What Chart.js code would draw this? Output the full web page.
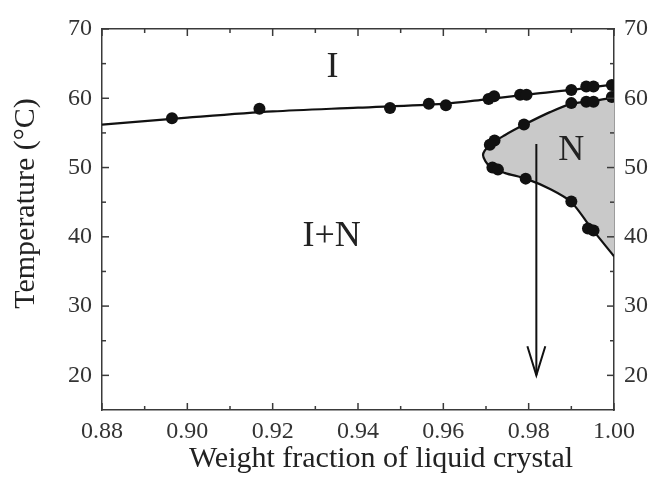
<!DOCTYPE html>
<html>
<head>
<meta charset="utf-8">
<title>Phase diagram</title>
<script src="https://cdn.jsdelivr.net/npm/chart.js@4.4.1/dist/chart.umd.min.js"></script>
<style>
  html, body { margin: 0; padding: 0; background: #fff; }
  #chart { display: block; }
</style>
</head>
<body>
<canvas id="chart" width="651" height="491"></canvas>
<script>
// ===== Data =====
// measured points on the I / I+N boundary
const isoX = [0.8964, 0.9169, 0.9475, 0.9566, 0.9606, 0.9706, 0.9719, 0.9780, 0.9795, 0.9900, 0.9935, 0.9952, 0.9995];
const isoY = [57.1, 58.5, 58.6, 59.2, 59.0, 59.9, 60.3, 60.5, 60.5, 61.2, 61.7, 61.7, 61.9];

// measured points on the I+N / N boundary
const nemX = [0.9935, 0.9952, 0.9995, 0.9900, 0.9789, 0.9720, 0.9709, 0.9715, 0.9728, 0.9793, 0.9900, 0.9939, 0.9952];
const nemY = [59.5, 59.5, 60.2, 59.3, 56.2, 53.9, 53.3, 50.0, 49.7, 48.4, 45.1, 41.2, 40.9];

// drawn boundary curves
const isoCurveX = [0.88, 0.90, 0.92, 0.94, 0.96, 0.97, 0.98, 0.99, 1.00];
const isoCurveY = [56.2, 57.2, 58.1, 58.65, 59.2, 59.85, 60.55, 61.2, 62.0];
const nemCurveX = [1.00, 0.995, 0.990, 0.985, 0.979, 0.9745, 0.971, 0.9693, 0.971, 0.9745, 0.9793, 0.985, 0.990, 0.9945, 1.00];
const nemCurveY = [60.1, 59.6, 59.2, 58.0, 56.2, 54.7, 53.3, 51.8, 50.1, 49.2, 48.4, 46.9, 45.0, 41.4, 37.2];

// cooling arrow
const arrowX = [0.9818, 0.9818];
const arrowY = [53.4, 20.0];
const arrowHeadX = [0.9797, 0.9818, 0.9839];
const arrowHeadY = [24.2, 20.0, 24.2];

// region names
const regionNames = ['I', 'I+N', 'N'];
const regionX = [0.934, 0.9338, 0.990];
const regionY = [64.5, 40.0, 52.5];

// axes
const xTicks = [0.88, 0.90, 0.92, 0.94, 0.96, 0.98, 1.00];
const xMinorTicks = [0.89, 0.91, 0.93, 0.95, 0.97, 0.99];
const yTicks = [20, 30, 40, 50, 60, 70];
const yMinorTicks = [25, 35, 45, 55, 65];

const FONT = "'Liberation Serif', 'Times New Roman', serif";
const AXIS = '#3a3a3a';
const toPoints = (xs, ys) => xs.map((x, i) => ({ x, y: ys[i] }));

// inward tick marks, region labels, axis titles
const decorations = {
  id: 'decorations',
  afterDatasetsDraw(chart) {
    const { ctx, chartArea: a, scales: { x, y } } = chart;
    ctx.save();
    ctx.strokeStyle = AXIS;
    ctx.lineWidth = 1.5;
    const seg = (x1, y1, x2, y2) => {
      ctx.beginPath(); ctx.moveTo(x1, y1); ctx.lineTo(x2, y2); ctx.stroke();
    };
    const xMark = (v, len) => {
      const px = x.getPixelForValue(v);
      seg(px, a.bottom, px, a.bottom - len);
      seg(px, a.top, px, a.top + len);
    };
    const yMark = (v, len) => {
      const py = y.getPixelForValue(v);
      seg(a.left, py, a.left + len, py);
      seg(a.right, py, a.right - len, py);
    };
    xTicks.forEach(v => xMark(v, 7));
    xMinorTicks.forEach(v => xMark(v, 4));
    yTicks.forEach(v => yMark(v, 7));
    yMinorTicks.forEach(v => yMark(v, 4));

    ctx.fillStyle = '#222';
    ctx.textAlign = 'center';
    ctx.textBaseline = 'middle';
    ctx.font = `36px ${FONT}`;
    regionNames.forEach((t, i) => {
      ctx.fillText(t, x.getPixelForValue(regionX[i]), y.getPixelForValue(regionY[i]));
    });

    ctx.font = `30px ${FONT}`;
    ctx.fillText('Weight fraction of liquid crystal', (a.left + a.right) / 2 + 23, a.bottom + 49);
    ctx.translate(26, (a.top + a.bottom) / 2 - 16);
    ctx.rotate(-Math.PI / 2);
    ctx.fillText('Temperature (\u00B0C)', 0, 0);
    ctx.restore();
  }
};

const tickFont = { family: FONT, size: 24 };
const hiddenGrid = { display: false, drawTicks: false };
const border = { display: true, color: AXIS, width: 1.5 };
const yAxis = (position, width) => ({
  type: 'linear', position, min: 15, max: 70,
  afterBuildTicks: s => { s.ticks = yTicks.map(value => ({ value })); },
  ticks: { font: tickFont, color: '#333', padding: 10 },
  grid: hiddenGrid, border,
  afterFit: s => { s.width = width; }
});

new Chart(document.getElementById('chart'), {
  type: 'line',
  data: {
    datasets: [
      {
        data: toPoints(isoX, isoY), showLine: false, order: 0,
        pointRadius: 6, pointBackgroundColor: '#111', pointBorderWidth: 0
      },
      {
        data: toPoints(nemX, nemY), showLine: false, order: 0,
        pointRadius: 6, pointBackgroundColor: '#111', pointBorderWidth: 0
      },
      {
        data: toPoints(arrowX, arrowY), order: 1,
        borderColor: '#111', borderWidth: 2, pointRadius: 0, tension: 0
      },
      {
        data: toPoints(arrowHeadX, arrowHeadY), order: 1,
        borderColor: '#111', borderWidth: 2, pointRadius: 0, tension: 0
      },
      {
        data: toPoints(isoCurveX, isoCurveY), order: 2,
        borderColor: '#111', borderWidth: 2.2, pointRadius: 0, tension: 0.3
      },
      {
        data: toPoints(nemCurveX, nemCurveY), order: 2,
        borderColor: '#111', borderWidth: 2.2, pointRadius: 0, tension: 0.3,
        fill: 'shape', backgroundColor: '#c9c9c9'
      }
    ]
  },
  options: {
    responsive: false,
    animation: false,
    layout: { padding: 0 },
    plugins: { legend: { display: false }, tooltip: { enabled: false } },
    scales: {
      x: {
        type: 'linear', position: 'bottom', min: 0.88, max: 1.00,
        afterBuildTicks: s => { s.ticks = xTicks.map(value => ({ value })); },
        ticks: { font: tickFont, color: '#333', padding: 7, maxRotation: 0, autoSkip: false, callback: v => v.toFixed(2) },
        grid: hiddenGrid, border,
        afterFit: s => { s.height = 81; }
      },
      x2: {
        type: 'linear', position: 'top', min: 0.88, max: 1.00,
        ticks: { display: false }, grid: hiddenGrid, border,
        afterFit: s => { s.height = 29; }
      },
      y: yAxis('left', 102),
      y2: yAxis('right', 37)
    }
  },
  plugins: [decorations]
});
</script>
</body>
</html>
